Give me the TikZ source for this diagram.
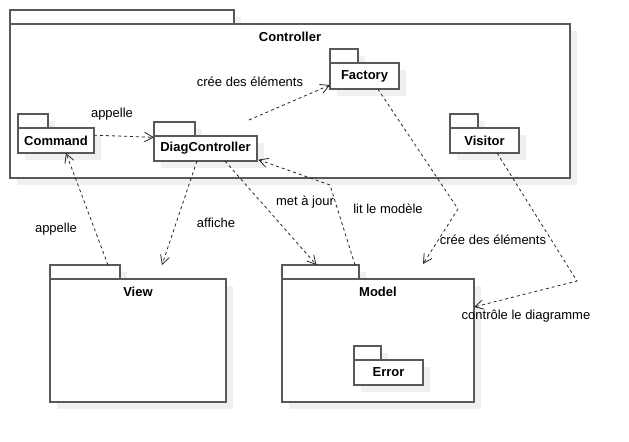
\documentclass[tikz,border=0pt]{standalone}
\usepackage{fontspec}
\setmainfont{Liberation Sans}
\usetikzlibrary{shadows, arrows.meta, positioning}
\newcommand{\umlfont}{\fontsize{9.75}{12}\selectfont}
\tikzstyle{pkgtab} = [rectangle, anchor=south west, minimum height=10.5pt, inner sep=0pt, outer sep=0pt, draw=black!65, line width=1pt, fill=white, drop shadow={shadow xshift=5.25pt, shadow yshift=-5.25pt, fill=black!6, opacity=1}]
\tikzstyle{pkg} = [rectangle, minimum height=18.75pt, inner sep=0pt, outer sep=0pt, text centered, font=\umlfont\bfseries, draw=black!65, line width=1pt, fill=white, drop shadow={shadow xshift=5.25pt, shadow yshift=-5.25pt, fill=black!6, opacity=1}]
\tikzstyle{pkgtitle} = [inner sep=0pt, font=\umlfont\bfseries]
\tikzstyle{lbl} = [inner sep=0pt, font=\umlfont]
\tikzstyle{dep} = [line width=0.6pt, draw=black!85, dash pattern=on 2.25pt off 2.25pt, -{Straight Barb[length=6.5pt, width=7pt]}]

\begin{document}
\begin{tikzpicture}[x=0.75pt, y=-0.75pt]
\useasboundingbox (0,0) rectangle (629,442);

\node (ctrltab) [pkgtab, minimum width=168pt] at (10,24) {};
\node (ctrl) [pkg, minimum width=420pt, minimum height=115.5pt, below right=0pt of ctrltab.south west] {};
\node (ctrltitle) [pkgtitle, below=6pt of ctrl.north] {Controller};

\node (cmdtab) [pkgtab, minimum width=22.5pt] at (18,128) {};
\node (cmd) [pkg, minimum width=57pt, below right=0pt of cmdtab.south west] {Command};

\node (diagtab) [pkgtab, minimum width=30.75pt] at (154,136) {};
\node (diag) [pkg, minimum width=77.25pt, below right=0pt of diagtab.south west] {DiagController};

\node (facttab) [pkgtab, minimum width=21pt] at (330,63) {};
\node (fact) [pkg, minimum width=51.75pt, minimum height=19.5pt, below right=0pt of facttab.south west] {Factory};

\node (visittab) [pkgtab, minimum width=21pt] at (450,128) {};
\node (visit) [pkg, minimum width=51.75pt, below right=0pt of visittab.south west] {Visitor};

\node (viewtab) [pkgtab, minimum width=52.5pt] at (50,279) {};
\node (view) [pkg, minimum width=132pt, minimum height=92.25pt, below right=0pt of viewtab.south west] {};
\node (viewtitle) [pkgtitle, below=6pt of view.north] {View};

\node (modeltab) [pkgtab, minimum width=57.75pt] at (282,279) {};
\node (model) [pkg, minimum width=144pt, minimum height=92.25pt, below right=0pt of modeltab.south west] {};
\node (modeltitle) [pkgtitle, below=6pt of model.north] {Model};

\node (errtab) [pkgtab, minimum width=20.25pt] at (354,360) {};
\node (err) [pkg, minimum width=51.75pt, below right=0pt of errtab.south west] {Error};

\coordinate (readbend) at (330,185);
\coordinate (createbend) at (458,209);
\coordinate (checkbend) at (577,281);

\draw [dep] ([yshift=4pt]cmd.east) -- ([yshift=-1pt]diag.north west);
\draw [dep] ([xshift=-6pt,yshift=12pt]diag.north east) -- ([yshift=3pt]fact.south west);
\draw [dep] ([xshift=-9pt]viewtab.north east) -- ([xshift=7.5pt]cmd.south);
\draw [dep] ([xshift=-6.4pt]diag.south) -- ([xshift=18pt,yshift=10.5pt]view.north);
\draw [dep] ([xshift=14.6pt]diag.south) -- ([xshift=-3pt]modeltab.north);
\draw [dep] ([xshift=-3pt]modeltab.north east) -- (readbend) -- ([xshift=1pt,yshift=1pt]diag.south east);
\draw [dep] ([xshift=10pt]fact.south) -- (createbend) -- ([xshift=-38.25pt,yshift=11.25pt]model.north east);
\draw [dep] ([xshift=9.4pt]visit.south) -- (checkbend) -- ([yshift=-21pt]model.north east);

\node (callcmd) [lbl] at (112,114) {appelle};
\node (makefact) [lbl] at (250,82) {crée des éléments};
\node (callview) [lbl] at (56,229) {appelle};
\node (show) [lbl] at (216,223) {affiche};
\node (update) [lbl] at (305,202) {met à jour};
\node (read) [lbl] at (388,209) {lit le modèle};
\node (makemodel) [lbl] at (493,240) {crée des éléments};
\node (check) [lbl] at (526,316) {contrôle le diagramme};
\end{tikzpicture}
\end{document}
